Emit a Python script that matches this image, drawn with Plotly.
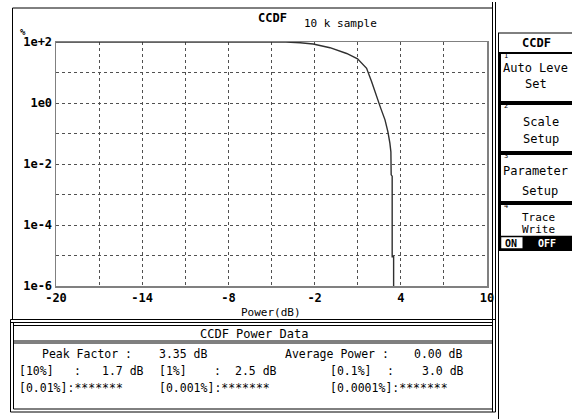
import plotly.graph_objects as go

# ---- data ----
power_db = [-20, -7.4, -4.0, -3.0, -2.1, -0.93, 0.23, 0.99, 1.62, 1.97, 2.32, 2.60,
            2.90, 3.10, 3.24, 3.31, 3.33, 3.40, 3.40, 3.50, 3.50]
ccdf_pct = [100, 100, 99, 94, 86, 65, 42, 28, 13.7, 5.0, 1.8, 0.68,
            0.28, 0.115, 0.048, 0.025, 0.0044, 0.0040, 9.1e-6, 9.1e-6, 1e-6]

x_tickvals = [-20, -17, -14, -11, -8, -5, -2, 1, 4, 7, 10]
x_ticktext = ["-20", "", "-14", "", "-8", "", "-2", "", "4", "", "10"]
y_tickvals = [1e-6, 1e-5, 1e-4, 1e-3, 1e-2, 1e-1, 1e0, 1e1, 1e2]
y_ticktext = ["1e-6", "", "1e-4", "", "1e-2", "", "1e0", "", "1e+2"]

W, H = 572, 419
FONT = "DejaVu Sans Mono"
DS = 11.5  # data panel font size


def fx(x):
    return x / W


def fy(y):
    return 1 - y / H


fig = go.Figure()
fig.add_trace(go.Scatter(x=power_db, y=ccdf_pct, mode="lines",
                         line=dict(color="#303030", width=1.4),
                         hoverinfo="skip", showlegend=False))

bold_x = ["<b>%s</b>" % t if t else "" for t in x_ticktext]
bold_y = ["<b>%s</b>" % t if t else "" for t in y_ticktext]

fig.update_layout(
    width=W, height=H, autosize=False,
    margin=dict(l=0, r=0, t=0, b=0, pad=0),
    paper_bgcolor="white", plot_bgcolor="white",
    font=dict(family=FONT, color="black", size=11),
    xaxis=dict(domain=[fx(56), fx(487)], range=[-20, 10], tickvals=x_tickvals,
               ticktext=bold_x, showgrid=True, gridcolor="#505050",
               griddash="dot", gridwidth=1, showline=True, mirror=True,
               linecolor="#808080", linewidth=1.5, ticks="", zeroline=False,
               automargin=False,
               tickfont=dict(family=FONT, size=12, color="black")),
    yaxis=dict(domain=[fy(286), fy(42)], type="log", range=[-6, 2],
               tickvals=y_tickvals, ticktext=bold_y, showgrid=True,
               gridcolor="#505050", griddash="dot", gridwidth=1,
               showline=True, mirror=True, linecolor="#808080", linewidth=1.5,
               ticks="", zeroline=False, automargin=False,
               tickfont=dict(family=FONT, size=12, color="black")),
)

shapes = []


def rect(x0, y0, x1, y1, w=1, color="black", fill=None):
    shapes.append(dict(type="rect", xref="paper", yref="paper",
                       x0=fx(x0), x1=fx(x1), y0=fy(y0), y1=fy(y1),
                       line=dict(color=color, width=w),
                       fillcolor=fill if fill else "rgba(0,0,0,0)",
                       layer="below" if fill else "above"))


def line(x0, y0, x1, y1, w=1, color="black"):
    shapes.append(dict(type="line", xref="paper", yref="paper",
                       x0=fx(x0), x1=fx(x1), y0=fy(y0), y1=fy(y1),
                       line=dict(color=color, width=w)))


# main graph panel
line(12.5, 8, 492.5, 8)
line(12.5, 8, 12.5, 320)
line(492.5, 2, 492.5, 412)
line(495.5, 2, 495.5, 412)
line(10.5, 319.5, 495.5, 319.5)
line(10.5, 322.5, 492.5, 322.5)
# bottom data panel
line(10.5, 319.5, 10.5, 412)
line(13.5, 322.5, 13.5, 409)
line(10.5, 412, 495.5, 412)
line(13.5, 409, 492.5, 409)
line(13.5, 325.5, 492.5, 325.5)
line(13.5, 341, 492.5, 341)
line(13.5, 343, 492.5, 343)

# softkey panel
line(498, 33, 572, 33)
line(498.5, 33, 498.5, 419)
for (y0, y1) in [(53, 102), (104, 152), (154, 202), (204, 250)]:
    rect(500, y0, 580, y1, w=2)
rect(522.5, 236.5, 580, 249, w=0, fill="black")
rect(500.5, 236.5, 580, 249, w=1.5)

fig.update_layout(shapes=shapes)

ann = []


def text(x, y, s, size=12, anchor="left", color="black", bold=False):
    ann.append(dict(xref="paper", yref="paper", x=fx(x), y=fy(y),
                    text=("<b>%s</b>" % s) if bold else s, showarrow=False,
                    xanchor=anchor, yanchor="middle",
                    font=dict(family=FONT, size=size, color=color)))


# graph labels
text(272, 18, "CCDF", size=12, anchor="center", bold=True)
text(302, 24, "10 k sample", size=11)
text(23, 32, "%", size=9, anchor="center", bold=True)
text(271, 312, "Power(dB)", size=11, anchor="center")

# data panel
text(254, 334, "CCDF Power Data", size=12, anchor="center")
text(40, 354, "Peak Factor :", size=DS)
text(157, 354, "3.35 dB", size=DS)
text(283, 354, "Average Power :", size=DS)
text(412, 354, "0.00 dB", size=DS)

text(17, 371, "[10%]", size=DS)
text(72, 371, ":", size=DS)
text(100, 371, "1.7 dB", size=DS)
text(157, 371, "[1%]", size=DS)
text(212, 371, ":", size=DS)
text(233, 371, "2.5 dB", size=DS)
text(328, 371, "[0.1%]", size=DS)
text(385, 371, ":", size=DS)
text(420, 371, "3.0 dB", size=DS)

text(17, 388, "[0.01%]:*******", size=DS)
text(157, 388, "[0.001%]:*******", size=DS)
text(328, 388, "[0.0001%]:*******", size=DS)

# softkeys
text(536, 43, "CCDF", size=12, anchor="center", bold=True)
text(502, 56, "1", size=7)
text(501, 68, "Auto Leve", size=12)
text(536, 84, "Set", size=12, anchor="center")
text(502, 106, "2", size=7)
text(541, 122, "Scale", size=12, anchor="center")
text(541, 139, "Setup", size=12, anchor="center")
text(502, 156, "3", size=7)
text(501, 171, "Parameter", size=12)
text(540, 191, "Setup", size=12, anchor="center")
text(502, 206, "4", size=7)
text(538, 217, "Trace", size=11, anchor="center")
text(538, 229, "Write", size=11, anchor="center")
text(511, 243, "ON", size=10, anchor="center", bold=True)
text(547, 243, "OFF", size=10, anchor="center", color="white", bold=True)

fig.update_layout(annotations=ann)

fig.write_html("out.html", config={"displayModeBar": False, "staticPlot": True},
               post_script="document.body.style.margin='0';")
